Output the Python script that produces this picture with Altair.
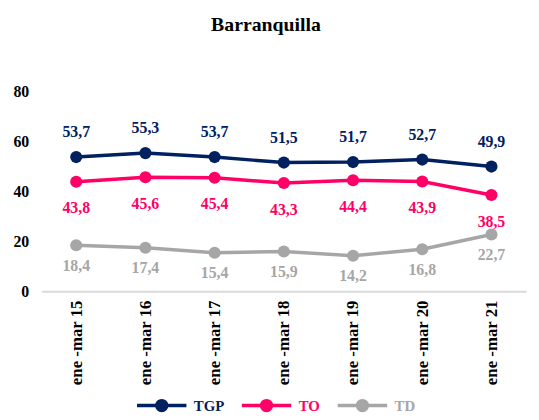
import altair as alt
import pandas as pd

periods = ["ene -mar 15", "ene -mar 16", "ene -mar 17", "ene -mar 18",
           "ene -mar 19", "ene -mar 20", "ene -mar 21"]
tgp = [53.7, 55.3, 53.7, 51.5, 51.7, 52.7, 49.9]
to = [43.8, 45.6, 45.4, 43.3, 44.4, 43.9, 38.5]
td = [18.4, 17.4, 15.4, 15.9, 14.2, 16.8, 22.7]
series = ["TGP", "TO", "TD"]
colors = ["#002060", "#FF0066", "#A6A6A6"]

rows = []
for name, vals in zip(series, [tgp, to, td]):
    for p, v in zip(periods, vals):
        rows.append({"period": p, "value": v, "series": name})
df = pd.DataFrame(rows)

FONT = "Liberation Serif"

x = alt.X("period:N", sort=periods, scale=alt.Scale(padding=0.5),
          axis=alt.Axis(title=None, labelAngle=-90, labelFont=FONT, labelFontSize=17,
                        labelFontWeight="bold", labelColor="#000000", ticks=False,
                        domainColor="#D9D9D9", domainWidth=2, labelPadding=9))
y = alt.Y("value:Q", scale=alt.Scale(domain=[0, 80]),
          axis=alt.Axis(title=None, values=[0, 20, 40, 60, 80], grid=False, domain=False,
                        ticks=False, labelFont=FONT, labelFontSize=16,
                        labelFontWeight="bold", labelColor="#000000", labelPadding=13))

label_color_expr = ("datum.value == 'TGP' ? '#002060' : "
                    "(datum.value == 'TO' ? '#FF0066' : '#A6A6A6')")

color = alt.Color("series:N", sort=series,
                  scale=alt.Scale(domain=series, range=colors),
                  legend=alt.Legend(title=None, orient="none", direction="horizontal",
                                    legendX=114, legendY=310, padding=0,
                                    symbolType="M-5,0H5M1,0A1,1,0,1,1,-1,0A1,1,0,1,1,1,0",
                                    symbolSize=100, symbolStrokeWidth=3.5,
                                    labelFont=FONT, labelFontSize=15, labelFontWeight="bold",
                                    labelColor={"expr": label_color_expr},
                                    labelOffset=25, columnPadding=10))

base = alt.Chart(df).encode(x=x, y=y)

line = base.mark_line(strokeWidth=3.5).encode(color=color)
points = base.mark_point(filled=True, size=150, opacity=1).encode(color=color)

layers = [line, points]
offsets = {"TGP": -25, "TO": 27, "TD": 21}
for name, col in zip(series, colors):
    layers.append(
        base.transform_filter(alt.datum.series == name)
        .transform_calculate(label="replace(format(datum.value, '.1f'), '.', ',')")
        .mark_text(font=FONT, fontSize=16, fontWeight="bold", color=col, dy=offsets[name])
        .encode(text="label:N")
    )

chart = alt.layer(*layers).properties(
    width=490, height=202,
    title=alt.TitleParams("Barranquilla", font=FONT, fontSize=20, fontWeight="bold",
                          color="#000000", offset=49, dx=-18, anchor="middle"),
).configure_view(stroke=None).configure_legend(
    labelFont=FONT, labelFontSize=15, labelFontWeight="bold"
)

chart.save("out.html", embed_options={"renderer": "svg", "actions": False})
